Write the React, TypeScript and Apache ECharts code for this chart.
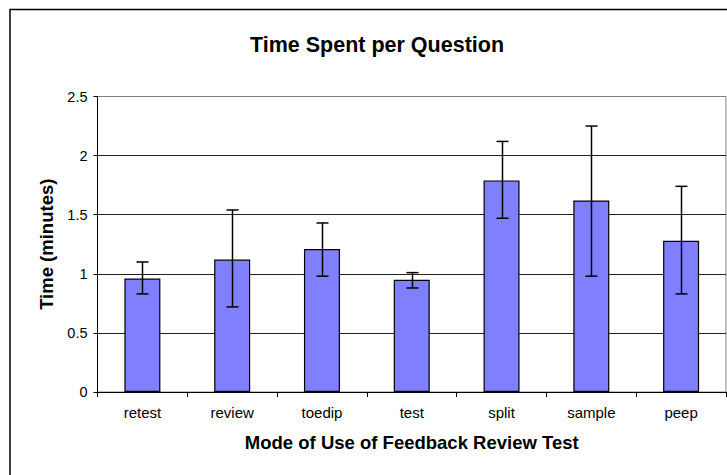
import React, { useEffect, useRef } from "react";
import * as echarts from "echarts";

const categories = ["retest", "review", "toedip", "test", "split", "sample", "peep"];
const meanTime = [0.96, 1.12, 1.21, 0.95, 1.79, 1.62, 1.28];
const errLow = [0.83, 0.72, 0.98, 0.88, 1.47, 0.98, 0.83];
const errHigh = [1.1, 1.54, 1.43, 1.01, 2.12, 2.25, 1.74];
const yTicks = [0, 0.5, 1, 1.5, 2, 2.5];

const FONT = "'Liberation Sans', Arial, sans-serif";

export default function App() {
  const ref = useRef<HTMLDivElement>(null);
  useEffect(() => {
    if (!ref.current) return;
    const chart = echarts.init(ref.current, null, { renderer: "svg" });
    const errData = categories.map((_, i) => [i, errLow[i], errHigh[i]]);
    chart.setOption({
      animation: false,
      backgroundColor: "#ffffff",
      textStyle: { fontFamily: FONT },
      title: {
        text: "Time Spent per Question",
        left: 372,
        top: 29,
        textAlign: "center",
        textStyle: { fontFamily: FONT, fontSize: 21.5, fontWeight: "bold", color: "#000" },
      },
      graphic: [
        {
          type: "rect",
          shape: { x: 10, y: 9.5, width: 740, height: 500 },
          style: { fill: "none", stroke: "#000", lineWidth: 1.5 },
          z: -1,
        },
      ],
      grid: {
        left: 97.5,
        top: 96.5,
        right: 1,
        bottom: 83,
        show: true,
        borderColor: "#808080",
        borderWidth: 1,
        backgroundColor: "transparent",
      },
      xAxis: {
        type: "category",
        data: categories,
        name: "Mode of Use of Feedback Review Test",
        nameLocation: "middle",
        nameGap: 41,
        nameTextStyle: { fontFamily: FONT, fontSize: 18.5, fontWeight: "bold", color: "#000" },
        axisLine: { lineStyle: { color: "#000", width: 1 } },
        axisTick: { show: true, length: 5, lineStyle: { color: "#000" } },
        axisLabel: { fontFamily: FONT, fontSize: 15, color: "#000", margin: 13 },
        splitLine: { show: false },
      },
      yAxis: {
        type: "value",
        min: yTicks[0],
        max: yTicks[yTicks.length - 1],
        interval: 0.5,
        name: "Time (minutes)",
        nameLocation: "middle",
        nameGap: 42,
        nameTextStyle: { fontFamily: FONT, fontSize: 18.5, fontWeight: "bold", color: "#000" },
        axisLine: { show: true, lineStyle: { color: "#000", width: 1 } },
        axisTick: { show: true, length: 4, lineStyle: { color: "#000" } },
        axisLabel: { fontFamily: FONT, fontSize: 14.5, color: "#000", margin: 10 },
        splitLine: {
          show: true,
          lineStyle: { color: ["#000", "#222", "#222", "#222", "#222", "#808080"], width: 1 },
        },
      },
      series: [
        {
          type: "bar",
          data: meanTime,
          barWidth: 36,
          itemStyle: { color: "#8080FF", borderColor: "#000", borderWidth: 1.2 },
          z: 2,
        },
        {
          type: "custom",
          data: errData,
          z: 3,
          renderItem: (params: any, api: any) => {
            const x = api.value(0);
            const lo = api.coord([x, api.value(1)]);
            const hi = api.coord([x, api.value(2)]);
            const cx = Math.round(lo[0]) + 0.5;
            const w = 6;
            const style = { stroke: "#000", lineWidth: 1.5 };
            return {
              type: "group",
              children: [
                { type: "line", shape: { x1: cx, y1: hi[1], x2: cx, y2: lo[1] }, style },
                { type: "line", shape: { x1: cx - w, y1: hi[1], x2: cx + w, y2: hi[1] }, style },
                { type: "line", shape: { x1: cx - w, y1: lo[1], x2: cx + w, y2: lo[1] }, style },
              ],
            };
          },
        },
      ],
    });
    return () => chart.dispose();
  }, []);
  return <div ref={ref} style={{ width: 727, height: 475, position: "absolute", left: 0, top: 0 }} />;
}
